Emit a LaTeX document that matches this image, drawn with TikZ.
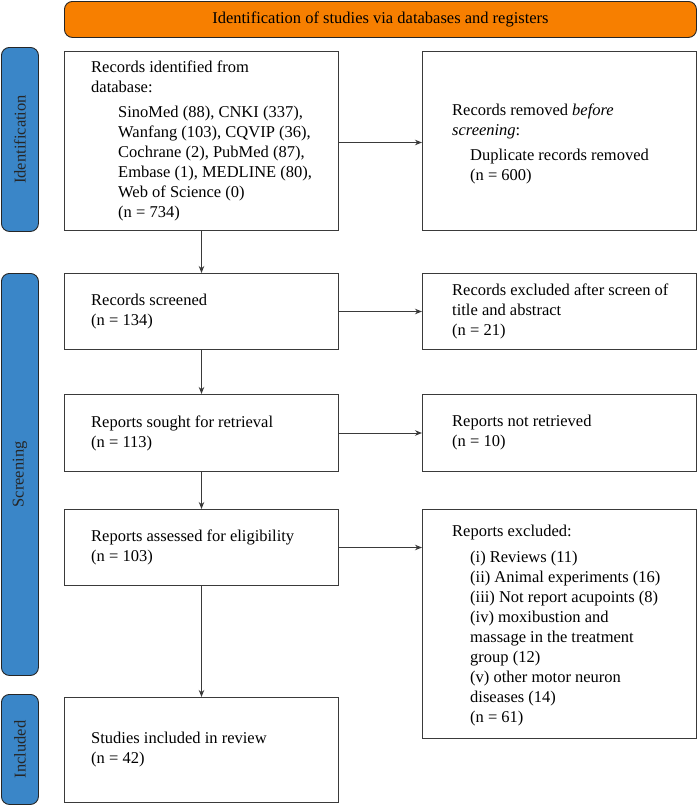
\documentclass[tikz,border=0pt]{standalone}
\usepackage{fontspec}
\setmainfont{Liberation Serif}
\usetikzlibrary{arrows.meta}
\definecolor{tabblue}{HTML}{3A86C8}
\definecolor{hdrorange}{HTML}{F77F00}
\definecolor{linegray}{HTML}{3A3A3A}
\begin{document}
\begin{tikzpicture}[x=1pt,y=-1pt,
  box/.style={draw=linegray, line width=1pt, anchor=north west, minimum width=274pt, inner sep=0pt},
  txt/.style={anchor=west, align=left, inner sep=0pt, font=\fontsize{16.5}{20}\selectfont, text=black},
  tab/.style={draw=black!85, fill=tabblue, rounded corners=8pt, line width=0.9pt, anchor=north west, minimum width=37pt, inner sep=0pt},
  tabtxt/.style={rotate=90, inner sep=0pt, font=\fontsize{16.5}{20}\selectfont, text=black!85},
  arr/.style={draw=linegray, line width=1pt, -{Stealth[length=7pt,width=5.5pt]}}]
\useasboundingbox (0,0) rectangle (697,806);

% header
\node[draw=black!85, fill=hdrorange, rounded corners=8pt, line width=0.9pt, anchor=north west,
      minimum width=632pt, minimum height=36pt, inner sep=0pt,
      font=\fontsize{16.5}{20}\selectfont] (hdr) at (64,1) {Identification of studies via databases and registers};

% side tabs
\node[tab, minimum height=184pt] (tid) at (1,47) {};
\node[tabtxt] (tidl) at (tid.center) {Identification};
\node[tab, minimum height=402pt] (tsc) at (1,273) {};
\node[tabtxt] (tscl) at (tsc.center) {Screening};
\node[tab, minimum height=110pt] (tin) at (1,694) {};
\node[tabtxt] (tinl) at (tin.center) {Included};

% boxes
\node[box, minimum height=179pt] (b1) at (64,51) {};
\node[box, minimum height=179pt] (b2) at (422,51) {};
\node[box, minimum height=76pt] (b3) at (64,273) {};
\node[box, minimum height=76pt] (b4) at (422,273) {};
\node[box, minimum height=77pt] (b5) at (64,394) {};
\node[box, minimum height=77pt] (b6) at (422,394) {};
\node[box, minimum height=76pt] (b7) at (64,509) {};
\node[box, minimum height=229pt] (b8) at (422,509) {};
\node[box, minimum height=105pt] (b9) at (64,697) {};

% texts
\node[txt] (t1) at ([xshift=27pt]b1.west) {Records identified from\\database:\\[5pt]
  \hspace*{27pt}SinoMed (88), CNKI (337),\\
  \hspace*{27pt}Wanfang (103), CQVIP (36),\\
  \hspace*{27pt}Cochrane (2), PubMed (87),\\
  \hspace*{27pt}Embase (1), MEDLINE (80),\\
  \hspace*{27pt}Web of Science (0)\\
  \hspace*{27pt}(n = 734)};
\node[txt] (t2) at ([xshift=30pt,yshift=-3pt]b2.west) {Records removed \textit{before}\\\textit{screening}:\\[5pt]
  \hspace*{18pt}Duplicate records removed\\
  \hspace*{18pt}(n = 600)};
\node[txt] (t3) at ([xshift=27pt]b3.west) {Records screened\\(n = 134)};
\node[txt] (t4) at ([xshift=30pt]b4.west) {Records excluded after screen of\\title and abstract\\(n = 21)};
\node[txt] (t5) at ([xshift=27pt]b5.west) {Reports sought for retrieval\\(n = 113)};
\node[txt] (t6) at ([xshift=30pt]b6.west) {Reports not retrieved\\(n = 10)};
\node[txt] (t7) at ([xshift=27pt]b7.west) {Reports assessed for eligibility\\(n = 103)};
\node[txt] (t8) at ([xshift=30pt,yshift=-2pt]b8.west) {Reports excluded:\\[6pt]
  \hspace*{18pt}(i) Reviews (11)\\
  \hspace*{18pt}(ii) Animal experiments (16)\\
  \hspace*{18pt}(iii) Not report acupoints (8)\\
  \hspace*{18pt}(iv) moxibustion and\\
  \hspace*{18pt}massage in the treatment\\
  \hspace*{18pt}group (12)\\
  \hspace*{18pt}(v) other motor neuron\\
  \hspace*{18pt}diseases (14)\\
  \hspace*{18pt}(n = 61)};
\node[txt] (t9) at ([xshift=27pt]b9.west) {Studies included in review\\(n = 42)};

% connectors
\draw[arr] ([yshift=-1.5pt]b1.east) -- ([yshift=-1.5pt]b2.west);
\draw[arr] (b1.south) -- (b3.north);
\draw[arr] (b3.east) -- (b4.west);
\draw[arr] (b3.south) -- (b5.north);
\draw[arr] (b5.east) -- (b6.west);
\draw[arr] (b5.south) -- (b7.north);
\draw[arr] (b7.east) -- (b7.east -| b8.west);
\draw[arr] (b7.south) -- (b9.north);
\end{tikzpicture}
\end{document}
